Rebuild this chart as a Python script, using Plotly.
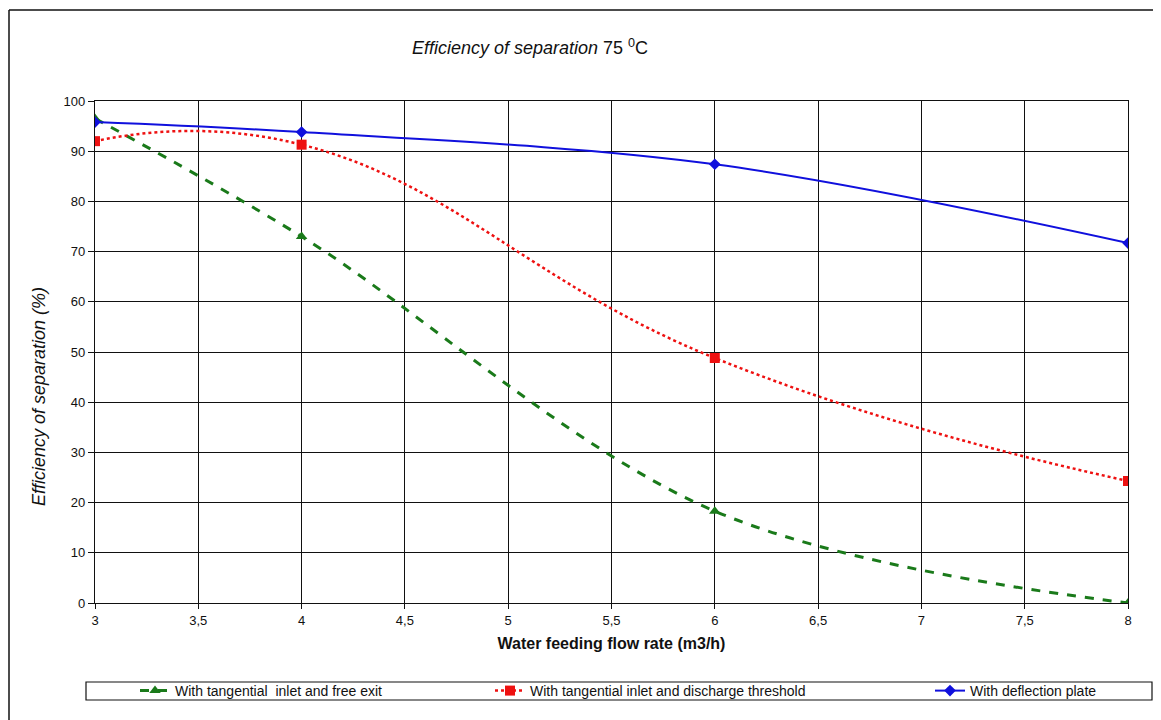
import plotly.graph_objects as go

flow = [3, 4, 6, 8]
free_exit = [96.5, 73.0, 18.3, 0.0]
threshold = [92.0, 91.3, 48.8, 24.3]
deflection = [95.8, 93.8, 87.4, 71.7]

x_ticks = [3, 3.5, 4, 4.5, 5, 5.5, 6, 6.5, 7, 7.5, 8]
x_tick_labels = ["3", "3,5", "4", "4,5", "5", "5,5", "6", "6,5", "7", "7,5", "8"]
y_ticks = [0, 10, 20, 30, 40, 50, 60, 70, 80, 90, 100]

FONT = "Liberation Sans, Arial, sans-serif"

# page has an 8px body margin; figure is sized/positioned to compensate
OFF = 8
W, H = 1161 - OFF, 720 - OFF
PL, PR, PT, PB = 95, 1128, 101, 603  # plot area in page pixels
PW, PH = PR - PL, PB - PT


def px(xp):
    return (xp - PL) / PW


def py(yp):
    return (PB - yp) / PH


fig = go.Figure()
fig.add_trace(go.Scatter(
    x=flow, y=free_exit, mode="lines+markers",
    name="With tangential  inlet and free exit",
    line=dict(color="#1a7a1a", width=3, dash="dash", shape="spline", smoothing=1.0),
    marker=dict(symbol="triangle-up", size=10, color="#1a7a1a"),
    legend="legend", showlegend=True,
))
fig.add_trace(go.Scatter(
    x=flow, y=threshold, mode="lines+markers",
    name="With tangential inlet and discharge threshold",
    line=dict(color="#ee1111", width=2.5, dash="dot", shape="spline", smoothing=1.3),
    marker=dict(symbol="square", size=10, color="#ee1111"),
    legend="legend2", showlegend=True,
))
fig.add_trace(go.Scatter(
    x=flow, y=deflection, mode="lines+markers",
    name="With deflection plate",
    line=dict(color="#1010dd", width=2, shape="spline", smoothing=1.0),
    marker=dict(symbol="diamond", size=9, color="#1010dd"),
    legend="legend3", showlegend=True,
))

legend_common = dict(
    orientation="h", yanchor="middle", y=py(691), xanchor="left",
    bgcolor="rgba(0,0,0,0)", borderwidth=0,
    font=dict(family=FONT, size=14, color="#111"),
)
fig.update_layout(
    width=W, height=H, showlegend=True,
    paper_bgcolor="white", plot_bgcolor="white",
    margin=dict(l=PL - OFF, r=1161 - PR, t=PT - OFF, b=720 - PB),
    font=dict(family=FONT, size=13, color="#111"),
    title=dict(
        text="<i>Efficiency of separation</i> 75 <sup>0</sup>C",
        x=(530 - OFF) / W, xanchor="center", y=1 - (48 - OFF) / H, yanchor="middle",
        font=dict(family=FONT, size=18, color="#111"),
    ),
    legend=dict(x=px(135), **legend_common),
    legend2=dict(x=px(490), **legend_common),
    legend3=dict(x=px(930), **legend_common),
    xaxis=dict(
        range=[3, 8], tickvals=x_ticks, ticktext=x_tick_labels,
        showgrid=True, gridcolor="#111", gridwidth=1.3,
        showline=True, linecolor="#111", linewidth=1.3, mirror=True,
        ticks="outside", ticklen=5, tickcolor="#111",
        zeroline=False,
        tickfont=dict(family=FONT, size=13, color="#111"),
        title=dict(text="<b>Water feeding flow rate (m3/h)</b>", standoff=11,
                   font=dict(family=FONT, size=16, color="#111")),
    ),
    yaxis=dict(
        range=[0, 100], tickvals=y_ticks,
        showgrid=True, gridcolor="#111", gridwidth=1.3,
        showline=True, linecolor="#111", linewidth=1.3, mirror=True,
        ticks="outside", ticklen=6, tickcolor="#111",
        zeroline=False,
        tickfont=dict(family=FONT, size=13, color="#111"),
    ),
    annotations=[
        dict(text="<i>Efficiency of separation (%)</i>", textangle=-90,
             xref="paper", yref="paper", x=px(39), y=py(397),
             xanchor="center", yanchor="middle", showarrow=False,
             font=dict(family=FONT, size=18, color="#111")),
    ],
    shapes=[
        # legend box
        dict(type="rect", xref="paper", yref="paper",
             x0=px(86), x1=px(1152), y0=py(700), y1=py(682),
             line=dict(color="#111", width=1.2), fillcolor="rgba(0,0,0,0)"),
        # outer chart border (left and top visible)
        dict(type="line", xref="paper", yref="paper",
             x0=px(9), x1=px(9), y0=py(730), y1=py(10),
             line=dict(color="#111", width=1.5)),
        dict(type="line", xref="paper", yref="paper",
             x0=px(9), x1=px(1170), y0=py(10), y1=py(10),
             line=dict(color="#111", width=1.5)),
    ],
)

fig.write_html("out.html")
